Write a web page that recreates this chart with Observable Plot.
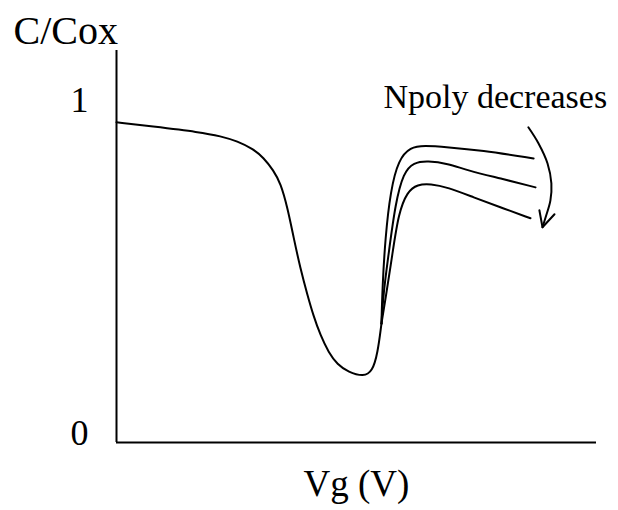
<!DOCTYPE html>
<html>
<head>
<meta charset="utf-8">
<script src="https://cdn.jsdelivr.net/npm/d3@7"></script>
<script src="https://cdn.jsdelivr.net/npm/@observablehq/plot@0.6"></script>
<style>
  html, body { margin: 0; padding: 0; background: #fff; }
  #chart svg { display: block; }
</style>
</head>
<body>
<div id="chart"></div>
<script>
// Common low-Vg branch down to the minimum and merge point (arbitrary Vg units)
const baseVg = [0, 0.71, 1.75, 2.17, 2.52, 2.85, 3.06, 3.27, 3.42, 3.56, 3.69, 3.83, 3.98, 4.10, 4.25, 4.42, 4.60, 4.83, 5.15, 5.33, 5.44, 5.52];
const baseC  = [0.964, 0.952, 0.934, 0.922, 0.907, 0.883, 0.858, 0.819, 0.780, 0.708, 0.617, 0.524, 0.443, 0.383, 0.322, 0.271, 0.235, 0.212, 0.198, 0.214, 0.268, 0.358];

// High-Vg branches, Npoly decreasing from top to bottom
const highVg = [5.52, 5.54, 5.60, 5.71, 5.875, 6.125, 6.40, 6.90, 7.58, 8.69];
const highC  = [0.358, 0.467, 0.617, 0.759, 0.852, 0.889, 0.894, 0.889, 0.880, 0.855];
const midVg  = [5.52, 5.56, 5.67, 5.81, 5.98, 6.19, 6.48, 6.90, 7.31, 8.0, 8.73];
const midC   = [0.358, 0.449, 0.569, 0.720, 0.813, 0.843, 0.848, 0.840, 0.819, 0.795, 0.768];
const lowVg  = [5.52, 5.60, 5.75, 5.875, 6.06, 6.27, 6.54, 6.90, 7.44, 8.0, 8.625];
const lowC   = [0.358, 0.428, 0.569, 0.690, 0.756, 0.777, 0.779, 0.768, 0.738, 0.708, 0.675];

// Curved annotation arrow
const arrowVg = [8.58, 8.79, 8.98, 9.06, 9.04, 8.94, 8.875];
const arrowC  = [0.949, 0.901, 0.840, 0.780, 0.729, 0.678, 0.648];
const headVg  = [8.81, 8.875, 9.125];
const headC   = [0.699, 0.648, 0.687];

const yTicks = [0, 1];
const yTickLabels = ["0", "1"];
const annotation = {text: "Npoly decreases", vg: 5.56, c: 1.039};
const yLabel = "C/Cox";
const xLabel = "Vg (V)";

const zip = (xs, ys, id) => xs.map((x, i) => ({x, y: ys[i], id}));
const curves = [
  ...zip(baseVg, baseC, "base"),
  ...zip(highVg, highC, "high"),
  ...zip(midVg, midC, "mid"),
  ...zip(lowVg, lowC, "low")
];
const arrow = zip(arrowVg, arrowC, "arrow");
const head = zip(headVg, headC, "head");

const font = "Liberation Serif, Times New Roman, serif";

const chart = Plot.plot({
  width: 618,
  height: 510,
  marginLeft: 116,
  marginRight: 22,
  marginTop: 50,
  marginBottom: 68,
  style: {fontFamily: font, background: "#fff", color: "#000"},
  x: {domain: [0, 10], axis: null},
  y: {domain: [0, 1.18], axis: null},
  marks: [
    Plot.axisY({ticks: yTicks, tickFormat: (d, i) => yTickLabels[i], tickSize: 0, tickPadding: 28, dy: -9.5, fontSize: 36, label: null}),
    Plot.ruleX([0], {y1: 0, y2: 1.18, stroke: "#000", strokeWidth: 2}),
    Plot.ruleY([0], {x1: 0, x2: 10, stroke: "#000", strokeWidth: 2}),
    Plot.line(curves, {x: "x", y: "y", z: "id", curve: "basis", stroke: "#000", strokeWidth: 2}),
    Plot.line(arrow, {x: "x", y: "y", curve: "catmull-rom", stroke: "#000", strokeWidth: 2}),
    Plot.line(head, {x: "x", y: "y", stroke: "#000", strokeWidth: 2}),
    Plot.text([annotation], {x: "vg", y: "c", text: "text", textAnchor: "start", lineAnchor: "middle", fontSize: 34, fill: "#000"}),
    Plot.text([yLabel], {frameAnchor: "top-left", text: d => d, textAnchor: "start", lineAnchor: "middle", dx: -103, dy: -19, fontSize: 40, fill: "#000"}),
    Plot.text([xLabel], {frameAnchor: "bottom", text: d => d, lineAnchor: "middle", dy: 42, fontSize: 37, fill: "#000"})
  ]
});
document.getElementById("chart").appendChild(chart);
</script>
</body>
</html>
